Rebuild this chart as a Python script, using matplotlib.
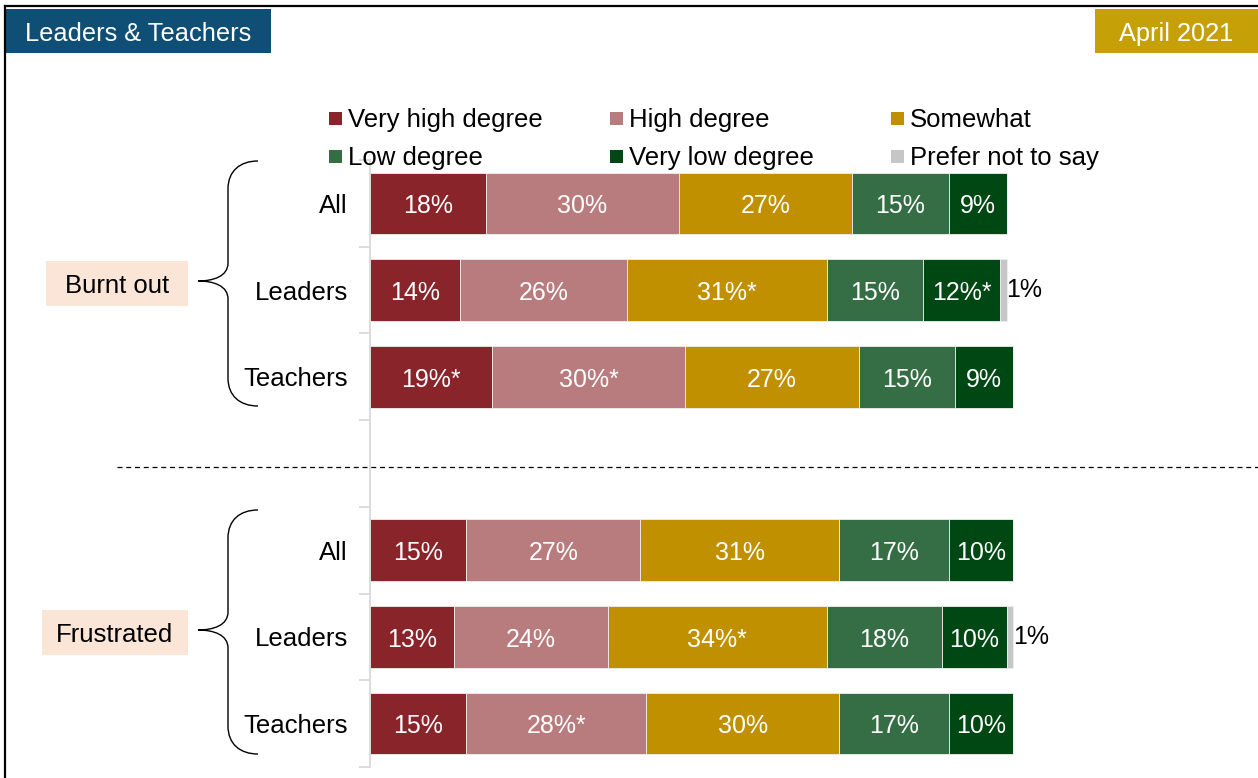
import matplotlib.pyplot as plt
import matplotlib.patches as mpatches
from matplotlib.path import Path
from matplotlib.lines import Line2D
import numpy as np

plt.rcParams['font.family'] = ['Liberation Sans', 'DejaVu Sans']

rows = ['All', 'Leaders', 'Teachers', '', 'All', 'Leaders', 'Teachers']
series = ['Very high degree', 'High degree', 'Somewhat',
          'Low degree', 'Very low degree', 'Prefer not to say']
very_high = [18, 14, 19, 0, 15, 13, 15]
high = [30, 26, 30, 0, 27, 24, 28]
somewhat = [27, 31, 27, 0, 31, 34, 30]
low = [15, 15, 15, 0, 17, 18, 17]
very_low = [9, 12, 9, 0, 10, 10, 10]
prefer_not = [0, 1, 0, 0, 0, 1, 0]

very_high_lbl = ['18%', '14%', '19%*', '', '15%', '13%', '15%']
high_lbl = ['30%', '26%', '30%*', '', '27%', '24%', '28%*']
somewhat_lbl = ['27%', '31%*', '27%', '', '31%', '34%*', '30%']
low_lbl = ['15%', '15%', '15%', '', '17%', '18%', '17%']
very_low_lbl = ['9%', '12%*', '9%', '', '10%', '10%', '10%']
prefer_not_lbl = ['', '1%', '', '', '', '1%', '']

groups = ['Burnt out', 'Frustrated']
title_left = 'Leaders & Teachers'
title_right = 'April 2021'

colors = ['#88242A', '#B97C7E', '#C09000', '#356E45', '#004813', '#C6C6C6']

W, H = 1258, 778
fig = plt.figure(figsize=(W / 100, H / 100), dpi=100)


def fx(x):
    return x / W


def fy(y):
    return 1 - y / H


# axes: x=0 at px 370, 6.43 px per percent
ax = fig.add_axes([fx(370), fy(767), (W - 370) / W, 607 / H])
ax.set_xlim(0, (W - 370) / 6.43)
ax.set_ylim(6.5, -0.5)

ypos = np.arange(len(rows))
values = [very_high, high, somewhat, low, very_low, prefer_not]
labels = [very_high_lbl, high_lbl, somewhat_lbl, low_lbl, very_low_lbl, prefer_not_lbl]
left = np.zeros(len(rows))
for i, (vals, lbls) in enumerate(zip(values, labels)):
    bars = ax.barh(ypos, vals, left=left, height=0.71, color=colors[i],
                   edgecolor='#EEEEEE', linewidth=0.6)
    if i < 5:
        txts = ax.bar_label(bars, labels=lbls, label_type='center', color='white', fontsize=18)
        for t in txts:
            t.xyann = (0, -2)
    else:
        ax.bar_label(bars, labels=lbls, label_type='edge', padding=0, color='black', fontsize=18)
    left += np.array(vals)

ax.set_yticks(ypos)
ax.set_yticklabels(rows, fontsize=18.5)
ax.set_yticks(np.arange(-0.5, 7, 1), minor=True)
ax.tick_params(axis='y', which='major', length=0, pad=16)
ax.tick_params(axis='y', which='minor', length=8, color='#D9D9D9', width=1.3)
ax.set_xticks([])
for s in ['top', 'right', 'bottom']:
    ax.spines[s].set_visible(False)
ax.spines['left'].set_color('#D9D9D9')
ax.spines['left'].set_linewidth(1.3)

# legend, laid out row by row
leg_x = [329, 610, 891]
leg_y = [118, 156]
for i, name in enumerate(series):
    x0 = leg_x[i % 3]
    y0 = leg_y[i // 3]
    fig.add_artist(mpatches.Rectangle((fx(x0), fy(y0 + 6.5)), 13 / W, 13 / H,
                                      transform=fig.transFigure, color=colors[i], lw=0))
    fig.text(fx(x0 + 19), fy(y0 + 2), name, fontsize=18.5, va='center', ha='left')

# header boxes
fig.add_artist(mpatches.Rectangle((fx(6), fy(53)), 265 / W, 44 / H,
                                  transform=fig.transFigure, color='#0F4F75', lw=0))
fig.text(fx(138.5), fy(34), title_left, fontsize=18.3, color='white', ha='center', va='center')
fig.add_artist(mpatches.Rectangle((fx(1095), fy(53)), 163 / W, 44 / H,
                                  transform=fig.transFigure, color='#C6A007', lw=0))
fig.text(fx(1176.5), fy(34), title_right, fontsize=18.3, color='white', ha='center', va='center')

# frame lines
fig.add_artist(Line2D([fx(5), fx(5)], [0, fy(6)], transform=fig.transFigure, color='black', lw=1.6))
fig.add_artist(Line2D([fx(5), 1], [fy(6), fy(6)], transform=fig.transFigure, color='black', lw=1.6))

# separator
fig.add_artist(Line2D([fx(117), 1], [fy(467), fy(467)], transform=fig.transFigure,
                      color='black', lw=0.9, linestyle=(0, (4, 3))))


def brace(top, bot, tip):
    xv, xe, xt = 228, 258, 198
    verts = [(xe, top), (240, top), (xv, top + 10), (xv, top + 28),
             (xv, tip - 18),
             (xv, tip - 5), (214, tip), (xt, tip),
             (214, tip), (xv, tip + 5), (xv, tip + 18),
             (xv, bot - 28),
             (xv, bot - 10), (240, bot), (xe, bot)]
    codes = [Path.MOVETO, Path.CURVE4, Path.CURVE4, Path.CURVE4,
             Path.LINETO,
             Path.CURVE4, Path.CURVE4, Path.CURVE4,
             Path.CURVE4, Path.CURVE4, Path.CURVE4,
             Path.LINETO,
             Path.CURVE4, Path.CURVE4, Path.CURVE4]
    p = Path([(fx(a), fy(b)) for a, b in verts], codes)
    fig.add_artist(mpatches.PathPatch(p, transform=fig.transFigure, fill=False,
                                      edgecolor='black', lw=1.0))


brace(161, 406, 281)
brace(510, 754, 630)

# group label boxes
fig.add_artist(mpatches.Rectangle((fx(46), fy(306)), 142 / W, 45 / H,
                                  transform=fig.transFigure, color='#FBE5D6', lw=0))
fig.text(fx(117), fy(286), groups[0], fontsize=18.5, ha='center', va='center')
fig.add_artist(mpatches.Rectangle((fx(42), fy(655)), 146 / W, 45 / H,
                                  transform=fig.transFigure, color='#FBE5D6', lw=0))
fig.text(fx(115), fy(635), groups[1], fontsize=18.5, ha='center', va='center')

fig.savefig('out.png', dpi=100)
